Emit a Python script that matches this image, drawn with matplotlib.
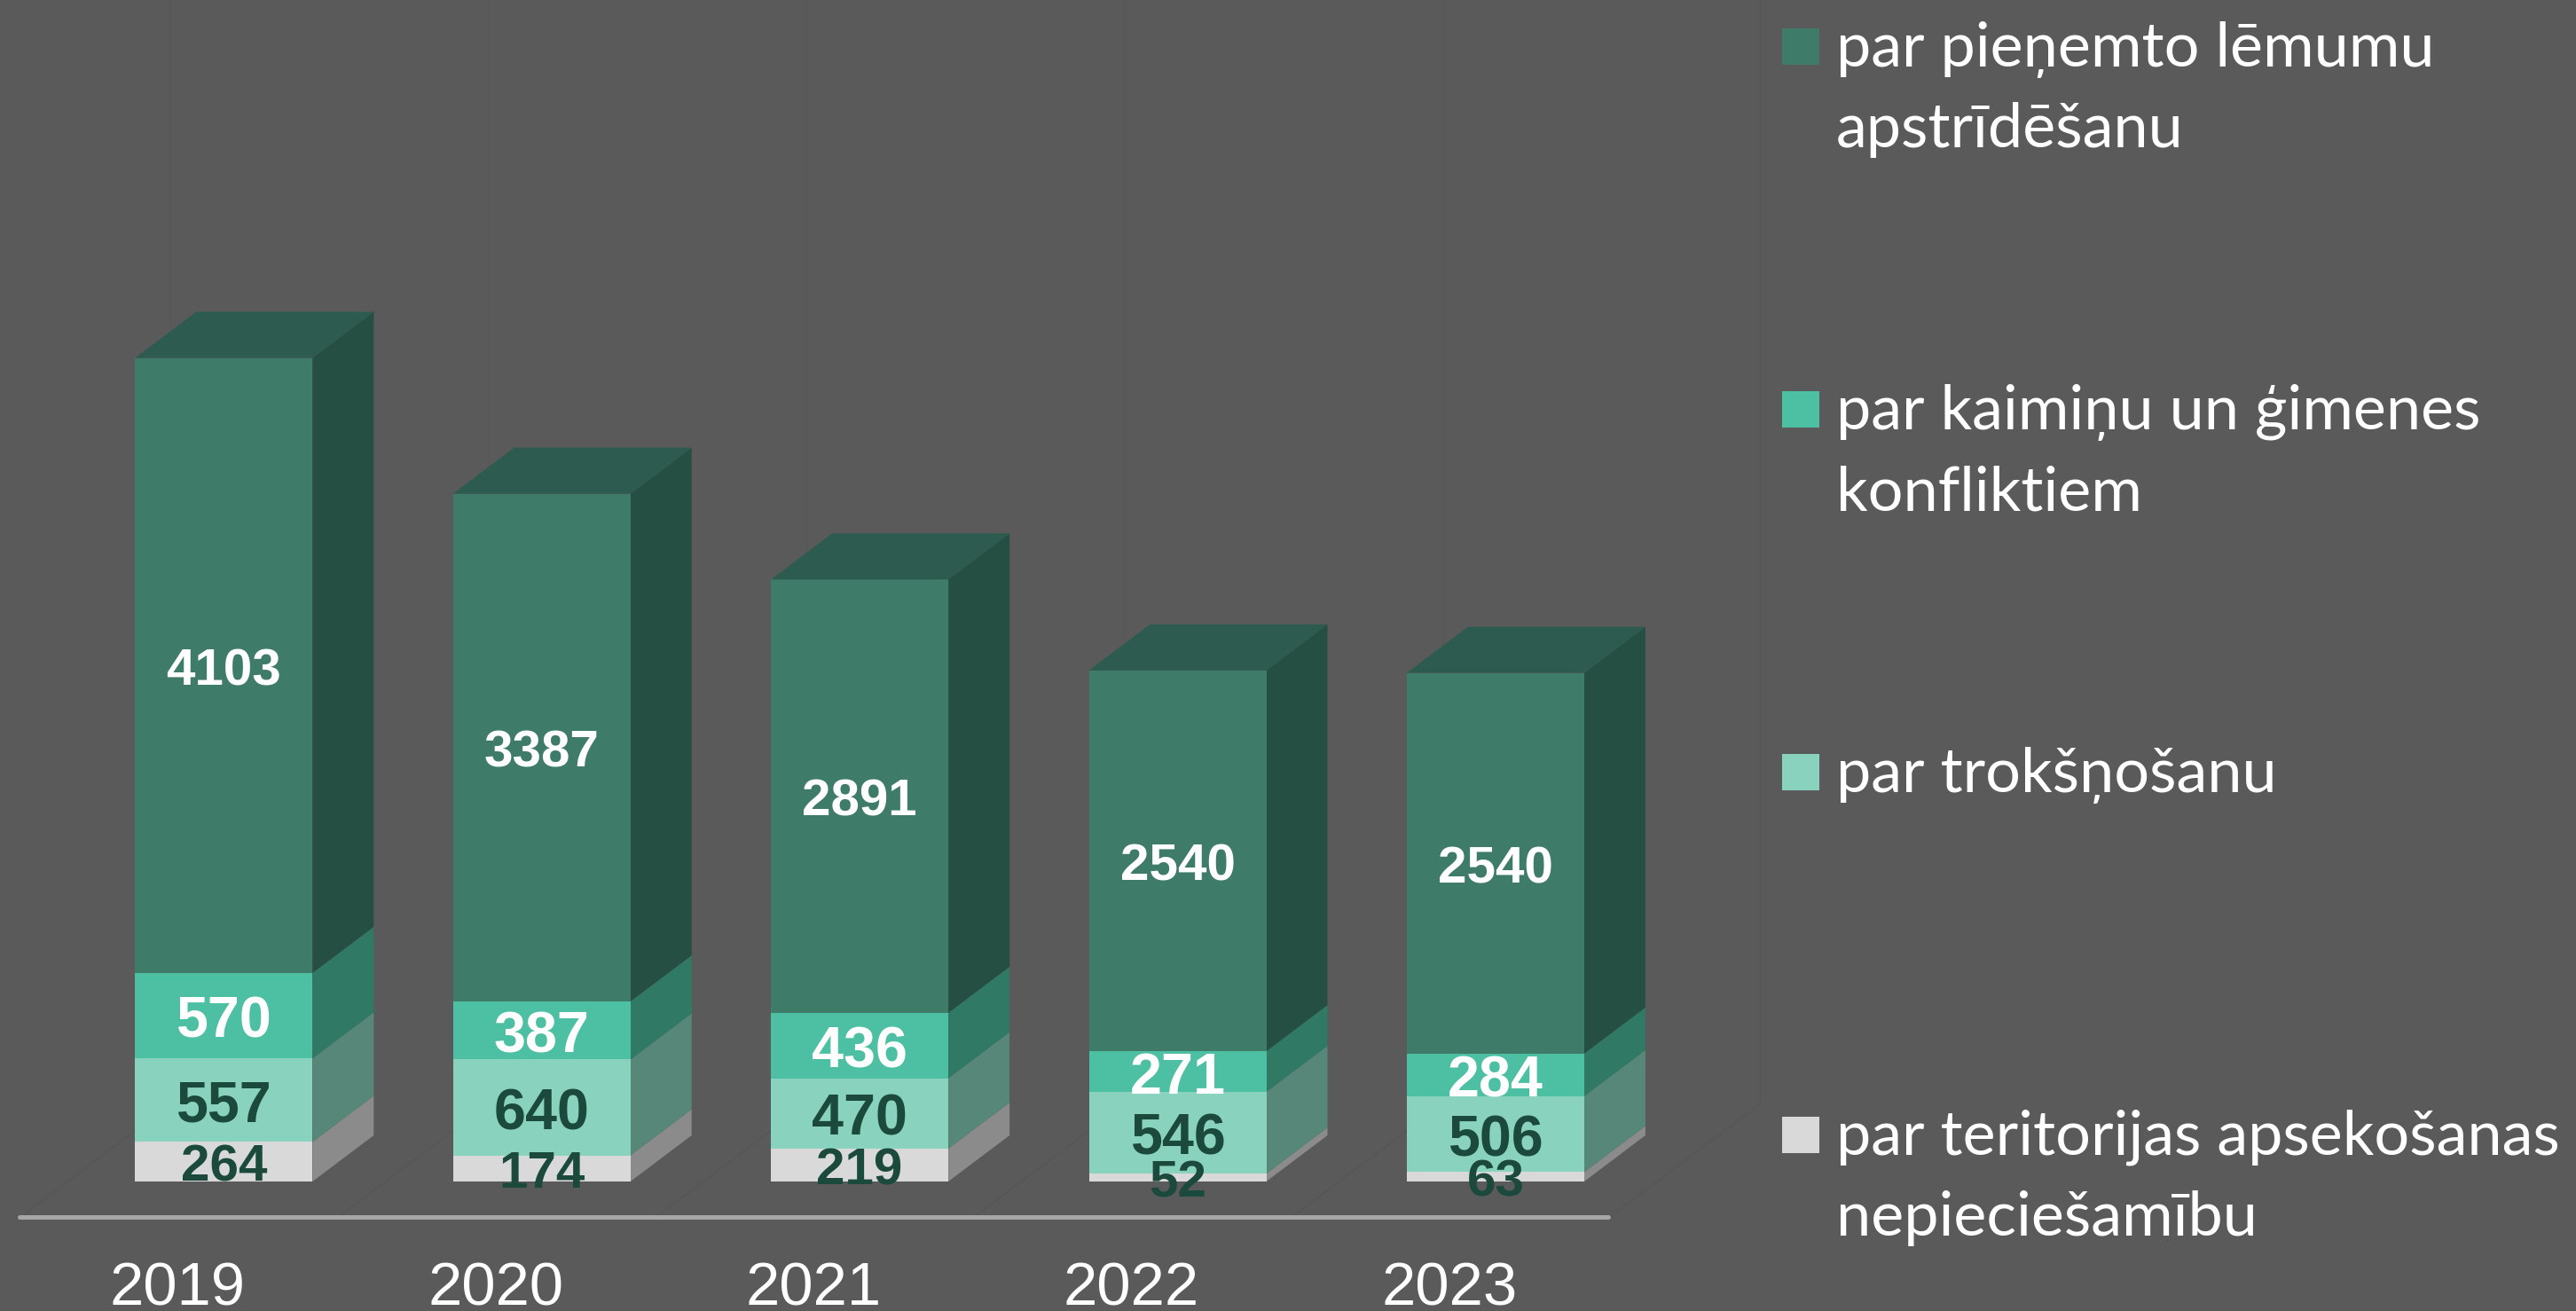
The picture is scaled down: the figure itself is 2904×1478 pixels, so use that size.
import matplotlib
matplotlib.use("Agg")
import matplotlib.pyplot as plt
from matplotlib.patches import Polygon, Rectangle

years = ["2019", "2020", "2021", "2022", "2023"]
grey_vals = [264, 174, 219, 52, 63]
light_vals = [557, 640, 470, 546, 506]
green_vals = [570, 387, 436, 271, 284]
dark_vals = [4103, 3387, 2891, 2540, 2540]
legend_labels = ["par pieņemto lēmumu\napstrīdēšanu",
                 "par kaimiņu un ģimenes\nkonfliktiem",
                 "par trokšņošanu",
                 "par teritorijas apsekošanas\nnepieciešamību"]

BG = "#5A5A5A"
W, H = 2904, 1478
PX_X = 358.4   # px per category
PX_Y = 0.169   # px per unit
X0, Y0 = 252.3, 146.0  # px of first category centre / baseline from bottom
BAR_W = 200 / PX_X
DX = 69 / PX_X
DY = 52 / PX_Y

fig = plt.figure(figsize=(W / 100, H / 100), dpi=100, facecolor=BG)
ax = fig.add_axes([0, 0, 1, 1])
ax.set_xlim(-X0 / PX_X, (W - X0) / PX_X)
ax.set_ylim(-Y0 / PX_Y, (H - Y0) / PX_Y)
ax.axis("off")

series = [
    (grey_vals, "#D9D9D9", "#8B8B8B", "#1B4A3C", 42),
    (light_vals, "#89D3BE", "#568778", "#1B4A3C", 46.5),
    (green_vals, "#4DBFA2", "#307A65", "#FFFFFF", 46.5),
    (dark_vals, "#3E7B69", "#264F44", "#FFFFFF", 42),
]

# faint floor and back-wall gridlines
floor_y = -40 / PX_Y
for i in range(6):
    xs = (1815 - X0) / PX_X - (5 - i)
    xe = xs + 169 / PX_X
    ye = floor_y + 127 / PX_Y
    ax.plot([xs, xe], [floor_y, ye], color="#565656", lw=1.0, zorder=1)
    ax.plot([xe, xe], [ye, (H - Y0) / PX_Y], color="#575757", lw=1.0, zorder=1)

for i in range(len(years)):
    left = i - BAR_W / 2
    right = i + BAR_W / 2
    base = 0
    for vals, front, side, tcol, fs in series:
        v = vals[i]
        ax.add_patch(Polygon([(right, base), (right + DX, base + DY),
                              (right + DX, base + v + DY), (right, base + v)],
                             closed=True, fc=side, ec="none", zorder=3))
        ax.add_patch(Rectangle((left, base), BAR_W, v, fc=front, ec="none", zorder=4))
        base += v
    ax.add_patch(Polygon([(left, base), (right, base), (right + DX, base + DY),
                          (left + DX, base + DY)],
                         closed=True, fc="#2E5B50", ec="none", zorder=4))
    base = 0
    for vals, front, side, tcol, fs in series:
        v = vals[i]
        ax.text(i, base + v / 2 - 1 / PX_Y, str(v), color=tcol, fontsize=fs,
                fontweight="bold", family="Liberation Sans",
                ha="center", va="center_baseline", zorder=6)
        base += v
    ax.text(i - 52 / PX_X, -139 / PX_Y, years[i], color="white",
            fontsize=49.5, family="Liberation Sans",
            ha="center", va="baseline", zorder=6)

# axis line
ax.plot([(22 - X0) / PX_X, (1813 - X0) / PX_X], [-40 / PX_Y, -40 / PX_Y],
        color="#A6A6A6", lw=3.6, solid_capstyle="round", zorder=2)

# legend
leg_colors = ["#3E7B69", "#4DBFA2", "#89D3BE", "#D9D9D9"]
for k, (lab, c) in enumerate(zip(legend_labels, leg_colors)):
    top_px = 32 + k * 409
    ax.add_patch(Rectangle((2009 / W, 1 - (top_px + 41) / H), 42 / W, 41 / H,
                           transform=ax.transAxes, fc=c, ec="none", zorder=5))
    for j, line in enumerate(lab.split("\n")):
        ax.text(2070 / W, 1 - (top_px + 43 + j * 91) / H, line, color="white",
                fontsize=50.5, family=["Lato", "Noto Sans"], transform=ax.transAxes,
                ha="left", va="baseline", zorder=6)

fig.savefig("out.png", dpi=100, facecolor=BG)
